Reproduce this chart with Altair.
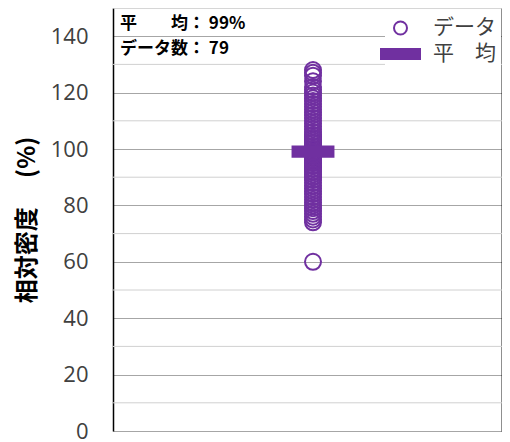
import altair as alt
import pandas as pd

# relative density values (%), 79 samples
values = [128, 127, 126, 124, 122, 121, 120, 119, 118, 117,
          116, 115, 114, 113, 112, 111, 110, 109, 108, 107,
          106, 105, 105, 104, 104, 103, 103, 102, 102, 101,
          101, 100, 100, 100, 99, 99, 99, 98, 98, 98,
          97, 97, 97, 96, 96, 96, 95, 95, 94, 94,
          93, 93, 92, 92, 91, 90, 90, 89, 88, 87,
          86, 85, 84, 83, 82, 81, 80, 79, 78, 77,
          76, 75, 74, 60, 99, 101, 100, 98, 102]
series_names = ["データ", "平　均"]
major_ticks = [0, 20, 40, 60, 80, 100, 120, 140]
minor_ticks = [10, 30, 50, 70, 90, 110, 130, 150]

PURPLE = "#7030A0"
BAR_PATH = "M-3,-0.76L3,-0.76L3,0.76L-3,0.76Z"

mean_val = sum(values) / len(values)
notes = [f"平　　均：  {round(mean_val)}%", f"データ数：  {len(values)}"]

df = pd.DataFrame({"value": values, "x": 1.0, "series": series_names[0]})
minor_df = pd.DataFrame({"v": minor_ticks})

xs = alt.Scale(domain=[0, 1.945])
ys = alt.Scale(domain=[0, 150], nice=False)

leg = alt.Legend(
    title=None, orient="none", legendX=272, legendY=4.5,
    fillColor="white", padding=5, labelFontSize=21,
    labelFont="Noto Sans CJK JP", labelColor="#404040",
    symbolSize=169, symbolStrokeWidth=2, labelOffset=22, rowPadding=4,
)

shape = alt.Shape("series:N", scale=alt.Scale(domain=series_names, range=["circle", BAR_PATH]), legend=leg)
fill = alt.Fill("series:N", scale=alt.Scale(domain=series_names, range=["transparent", PURPLE]), legend=leg)
stroke = alt.Stroke("series:N", scale=alt.Scale(domain=series_names, range=[PURPLE, PURPLE]), legend=leg)

yaxis = alt.Axis(
    values=major_ticks, title="相対密度　 (%)", titleFontSize=24, titleFontWeight="bold",
    titleFont="Noto Sans CJK JP", titleColor="black", titlePadding=11,
    labelFont="Open Sans", labelFontSize=22, labelColor="#404040", labelPadding=25,
    tickSize=0, domainColor="black", domainWidth=1.5,
    gridColor="#a6a6a6", gridWidth=1,
)

minor = alt.Chart(minor_df).mark_rule(color="#d0d0d0", strokeWidth=1).encode(
    y=alt.Y("v:Q", scale=ys, axis=yaxis)
)

points = alt.Chart(df).mark_point(opacity=1, strokeWidth=2, size=256).encode(
    x=alt.X("x:Q", scale=xs, axis=None),
    y=alt.Y("value:Q", scale=ys, axis=yaxis),
    shape=shape, fill=fill, stroke=stroke,
)

mean = alt.Chart(df).transform_aggregate(
    value="mean(value)", x="mean(x)"
).transform_calculate(series=f"'{series_names[1]}'").mark_point(
    opacity=1, strokeWidth=2, size=186
).encode(
    x=alt.X("x:Q", scale=xs, axis=None),
    y=alt.Y("value:Q", scale=ys, axis=yaxis),
    shape=shape, fill=fill, stroke=stroke,
)

note_df = pd.DataFrame({"t": notes, "row": [0, 1]})
note_layer = alt.Chart(note_df).mark_text(
    align="left", baseline="middle", fontSize=17, fontWeight="bold",
    font="Noto Sans CJK JP", color="black"
).encode(
    text="t:N",
    x=alt.value(7),
    y=alt.Y("row:Q", scale=alt.Scale(domain=[0, 1], range=[16, 41]), axis=None),
)

chart = alt.layer(minor, points, mean, note_layer).resolve_scale(y="independent").properties(
    width=389, height=423,
    autosize=alt.AutoSizeParams(type="none"),
    padding={"left": 105, "top": 0, "right": 0, "bottom": 10},
).configure_view(stroke=None).configure(background="white")

chart.save("out.html", embed_options={"renderer": "svg", "actions": False})
